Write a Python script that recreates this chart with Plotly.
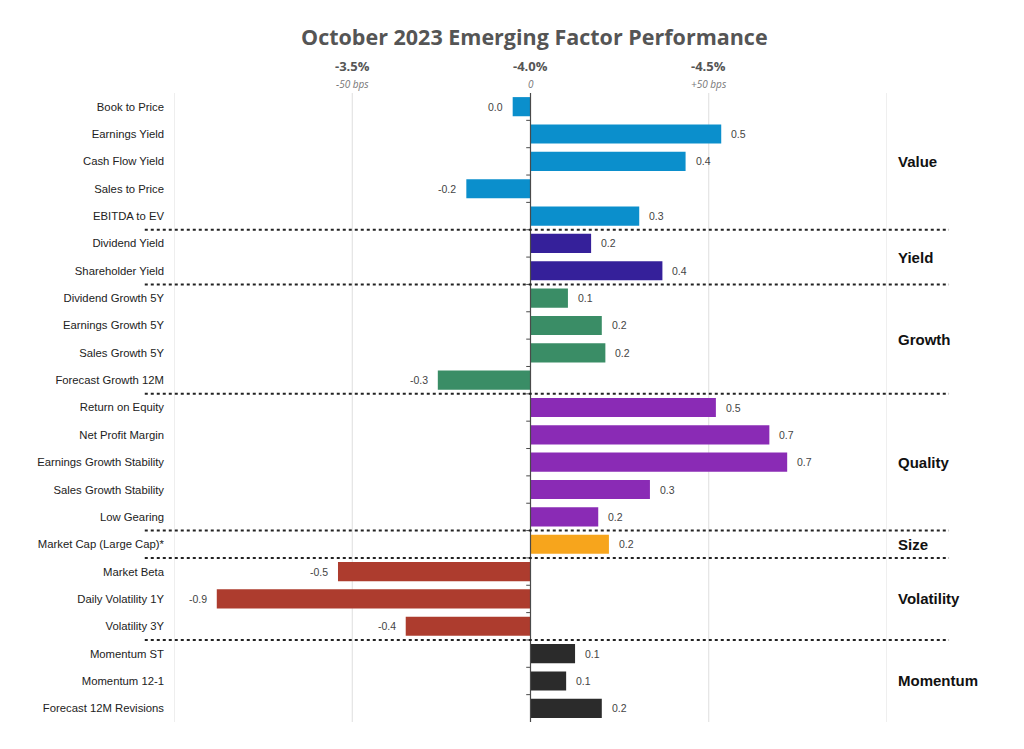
import plotly.graph_objects as go

title = "October 2023 Emerging Factor Performance"

categories = ["Book to Price", "Earnings Yield", "Cash Flow Yield", "Sales to Price", "EBITDA to EV",
              "Dividend Yield", "Shareholder Yield",
              "Dividend Growth 5Y", "Earnings Growth 5Y", "Sales Growth 5Y", "Forecast Growth 12M",
              "Return on Equity", "Net Profit Margin", "Earnings Growth Stability", "Sales Growth Stability", "Low Gearing",
              "Market Cap (Large Cap)*",
              "Market Beta", "Daily Volatility 1Y", "Volatility 3Y",
              "Momentum ST", "Momentum 12-1", "Forecast 12M Revisions"]
# active return, % (0.5 = +50 bps)
values = [-0.05, 0.535, 0.435, -0.18, 0.305,
          0.17, 0.37,
          0.105, 0.20, 0.21, -0.26,
          0.52, 0.67, 0.72, 0.335, 0.19,
          0.22,
          -0.54, -0.88, -0.35,
          0.125, 0.10, 0.20]
value_labels = ["0.0", "0.5", "0.4", "-0.2", "0.3",
                "0.2", "0.4",
                "0.1", "0.2", "0.2", "-0.3",
                "0.5", "0.7", "0.7", "0.3", "0.2",
                "0.2",
                "-0.5", "-0.9", "-0.4",
                "0.1", "0.1", "0.2"]
groups = ["Value"] * 5 + ["Yield"] * 2 + ["Growth"] * 4 + ["Quality"] * 5 + ["Size"] + ["Volatility"] * 3 + ["Momentum"] * 3
group_names = ["Value", "Yield", "Growth", "Quality", "Size", "Volatility", "Momentum"]
group_colors = {"Value": "#0b8fcc", "Yield": "#35209a", "Growth": "#3a8d66", "Quality": "#8a2bb5",
                "Size": "#f7a51c", "Volatility": "#ad3c2e", "Momentum": "#2b2b2b"}

top_tick_vals = [-0.5, 0.0, 0.5]
top_tick_pct = ["-3.5%", "-4.0%", "-4.5%"]
top_tick_bps = ["-50 bps", "0", "+50 bps"]
grid_vals = [-1.0, -0.5, 0.5, 1.0]

ypos = list(range(len(categories)))

fig = go.Figure()
fig.add_trace(go.Bar(
    x=values, y=ypos, orientation="h",
    marker=dict(color=[group_colors[g] for g in groups], line=dict(width=0)),
    width=0.7, showlegend=False, hoverinfo="x+y",
))

shapes = []
for gv in grid_vals:
    shapes.append(dict(type="line", xref="x", yref="paper", x0=gv, x1=gv, y0=0, y1=1,
                       line=dict(color="#dedede", width=1), layer="below"))
shapes.append(dict(type="line", xref="x", yref="paper", x0=0, x1=0, y0=0, y1=1,
                   line=dict(color="#4a4a4a", width=1.2), layer="above"))
for i in range(len(categories) - 1):
    shapes.append(dict(type="line", xref="x", yref="y", x0=-0.012, x1=0, y0=i + 0.5, y1=i + 0.5,
                       line=dict(color="#4a4a4a", width=1)))

annotations = []
# value labels
for v, lab, yp in zip(values, value_labels, ypos):
    annotations.append(dict(text=lab, xref="x", yref="y", x=v, y=yp,
                            xanchor="left" if v >= 0 else "right", xshift=8 if v >= 0 else -8,
                            yanchor="middle", showarrow=False,
                            font=dict(family="Liberation Sans, Arial", size=10.5, color="#444")))

start = 0
for gname in group_names:
    n = groups.count(gname)
    end = start + n - 1
    if end < len(categories) - 1:
        shapes.append(dict(type="line", xref="paper", yref="y", x0=-0.041, x1=1.087,
                           y0=end + 0.5, y1=end + 0.5, line=dict(color="#222", width=2, dash="dot")))
    annotations.append(dict(text="<b>" + gname + "</b>", xref="paper", yref="y", x=1.013,
                            y=(start + end) / 2, xanchor="left", yanchor="middle", showarrow=False,
                            font=dict(family="Liberation Sans, Arial", size=15, color="#111")))
    start = end + 1

for tv, tp, tb in zip(top_tick_vals, top_tick_pct, top_tick_bps):
    annotations.append(dict(text="<b>" + tp + "</b>", xref="x", yref="paper", x=tv, y=1.0, yshift=27,
                            showarrow=False, yanchor="middle",
                            font=dict(family="Open Sans", size=13, color="#555")))
    annotations.append(dict(text="<i>" + tb + "</i>", xref="x", yref="paper", x=tv, y=1.0, yshift=9,
                            showarrow=False, yanchor="middle",
                            font=dict(family="Open Sans", size=10, color="#777")))

fig.update_layout(
    width=1024, height=749,
    paper_bgcolor="white", plot_bgcolor="white",
    margin=dict(l=166, r=145, t=85, b=35),
    title=dict(text="<b>" + title + "</b>", x=0.514, xanchor="center", y=0.96, yanchor="middle",
               font=dict(family="Open Sans", size=21.5, color="#555")),
    xaxis=dict(range=[-1.0, 1.0], showgrid=False, zeroline=False, showticklabels=False,
               showline=False, fixedrange=True),
    yaxis=dict(tickmode="array", tickvals=ypos, ticktext=categories, range=[len(categories) - 0.5, -0.5],
               showgrid=False, zeroline=False, showline=False, ticks="",
               ticklabelstandoff=9,
               tickfont=dict(family="Liberation Sans, Arial", size=11.3, color="#222")),
    shapes=shapes, annotations=annotations,
)

fig.write_html("out.html")
